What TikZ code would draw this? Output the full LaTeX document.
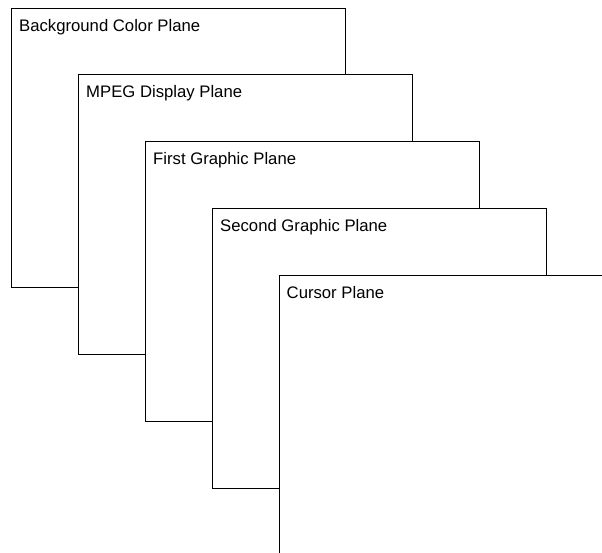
\documentclass[tikz,border=0pt]{standalone}
\usepackage{fontspec}
\setmainfont{Liberation Sans}
\begin{document}
\begin{tikzpicture}[x=1pt,y=-1pt,
  plane/.style={draw=black, fill=white, line width=1pt, minimum width=333.5pt, minimum height=279.5pt, anchor=north west, inner sep=0pt, outer sep=0pt},
  lbl/.style={anchor=base west, inner sep=0pt, font=\fontsize{16.7}{20}\selectfont}]
\useasboundingbox (0,0) rectangle (602,552);
\clip (0,0) rectangle (602,552);
\node[plane] (p1) at (11.5,8) {};
\node[lbl] (t1) at ([shift={(7.5,23)}]p1.north west) {Background Color Plane};
\node[plane] (p2) at (78.5,74.8) {};
\node[lbl] (t2) at ([shift={(7.5,23)}]p2.north west) {MPEG Display Plane};
\node[plane] (p3) at (145.5,141.5) {};
\node[lbl] (t3) at ([shift={(7.5,23)}]p3.north west) {First Graphic Plane};
\node[plane] (p4) at (212.5,208.5) {};
\node[lbl] (t4) at ([shift={(7.5,23)}]p4.north west) {Second Graphic Plane};
\node[plane] (p5) at (279,275.5) {};
\node[lbl] (t5) at ([shift={(7.5,23)}]p5.north west) {Cursor Plane};
\end{tikzpicture}
\end{document}
